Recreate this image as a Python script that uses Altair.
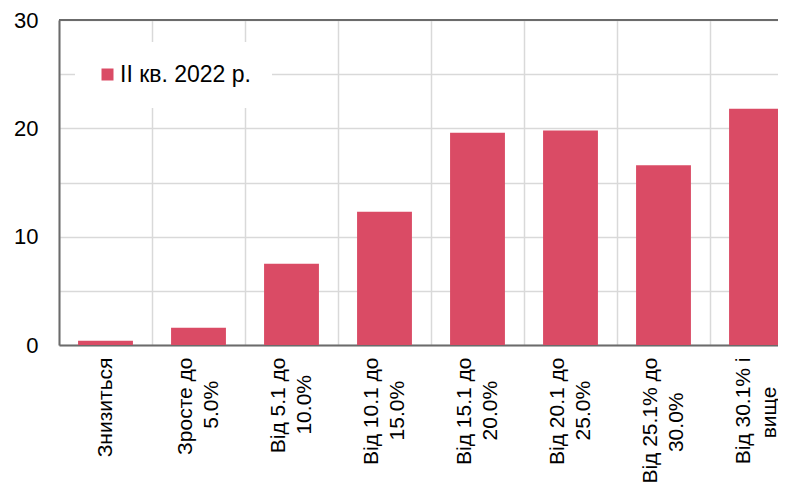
import json
import altair as alt
import pandas as pd

# label lines for each category (line 1, line 2)
line1 = ["Знизиться", "Зросте до", "Від 5.1 до", "Від 10.1 до", "Від 15.1 до",
         "Від 20.1 до", "Від 25.1% до", "Від 30.1% і"]
line2 = ["", "5.0%", "10.0%", "15.0%", "20.0%", "25.0%", "30.0%", "вище"]
# no-break spaces appended to the 2nd line so that it sits centred under line 1
line2_pad = [0, 4, 3, 4, 4, 4, 6, 5]
values = [0.4, 1.6, 7.5, 12.3, 19.6, 19.8, 16.6, 21.8]
series_name = "ІІ кв. 2022 р."

NBSP = "\u00a0"
ZWSP = "\u200b"  # keeps the trailing no-break spaces from being trimmed

single = [a for a, b in zip(line1, line2) if not b]
second = {a: (b + NBSP * p + ZWSP if b else "") for a, b, p in zip(line1, line2, line2_pad)}
SINGLE_JS = json.dumps(single, ensure_ascii=False)
SECOND_JS = json.dumps(second, ensure_ascii=False)

df = pd.DataFrame({"cat": line1, "value": values, "series": series_name})

BAR = "#DA4B65"
AXIS = "#6b6b6b"
GRID = "#d9d9d9"
FONT = "Liberation Sans"

xscale = alt.Scale(range=[0, 744], paddingInner=0, paddingOuter=0)

label_style = dict(
    title=None,
    orient="bottom",
    labelAngle=-90,
    labelAlign="right",
    labelBaseline="middle",
    labelPadding=12,
    labelFontSize=21,
    labelFont=FONT,
    labelColor="black",
    labelLimit=400,
    ticks=False,
)

# axis 1: grid, domain and single-line labels
x_main = alt.X(
    "cat:N", sort=line1, scale=xscale,
    axis=alt.Axis(
        **label_style,
        labelExpr=f"indexof({SINGLE_JS}, datum.label) >= 0 ? datum.label : ''",
        tickBand="extent",
        grid=True,
        gridColor=GRID,
        gridWidth=1.5,
        domainColor=AXIS,
        domainWidth=2,
    ),
)
# axis 2: first line of two-line labels
x_l1 = alt.X(
    "cat:N", sort=line1, scale=xscale,
    axis=alt.Axis(
        **label_style,
        labelExpr=f"indexof({SINGLE_JS}, datum.label) >= 0 ? '' : datum.label",
        labelOffset=-13,
        grid=False,
        domain=False,
    ),
)
# axis 3: second line of two-line labels
x_l2 = alt.X(
    "cat:N", sort=line1, scale=xscale,
    axis=alt.Axis(
        **label_style,
        labelExpr=f"{SECOND_JS}[datum.label]",
        labelOffset=13,
        grid=False,
        domain=False,
    ),
)

y = alt.Y(
    "value:Q",
    scale=alt.Scale(domain=[0, 30], nice=False),
    axis=alt.Axis(
        title=None,
        values=[0, 5, 10, 15, 20, 25, 30],
        labelExpr="datum.value % 10 === 0 ? datum.label : ''",
        labelPadding=21,
        labelFontSize=22,
        labelFont=FONT,
        labelColor="black",
        grid=True,
        gridColor=GRID,
        gridWidth=1.5,
        ticks=False,
        domainColor=AXIS,
        domainWidth=2,
    ),
)

bars = alt.Chart().mark_bar(width=alt.RelativeBandSize(0.59)).encode(
    x=x_main,
    y=y,
    color=alt.Color(
        "series:N",
        scale=alt.Scale(range=[BAR]),
        legend=alt.Legend(
            title=None,
            orient="none",
            legendX=16,
            legendY=22,
            fillColor="white",
            padding=21,
            symbolType="square",
            symbolSize=144,
            symbolStrokeWidth=0,
            labelFontSize=23,
            labelFont=FONT,
            labelColor="black",
            labelOffset=1,
        ),
    ),
)

lab1 = alt.Chart().mark_point(opacity=0).encode(x=x_l1)
lab2 = alt.Chart().mark_point(opacity=0).encode(x=x_l2)

top_border = alt.Chart().mark_rule(color=AXIS, strokeWidth=2).encode(y=alt.datum(30))

chart = alt.layer(bars, lab1, lab2, top_border, data=df).resolve_axis(
    x="independent"
).properties(
    width=719,
    height=325,
    autosize=alt.AutoSizeParams(type="none"),
    padding={"left": 51, "top": 12, "right": 0, "bottom": 139},
).configure_view(stroke=None).configure(font=FONT)

chart.save("out.html", embed_options={"renderer": "svg", "actions": False})
